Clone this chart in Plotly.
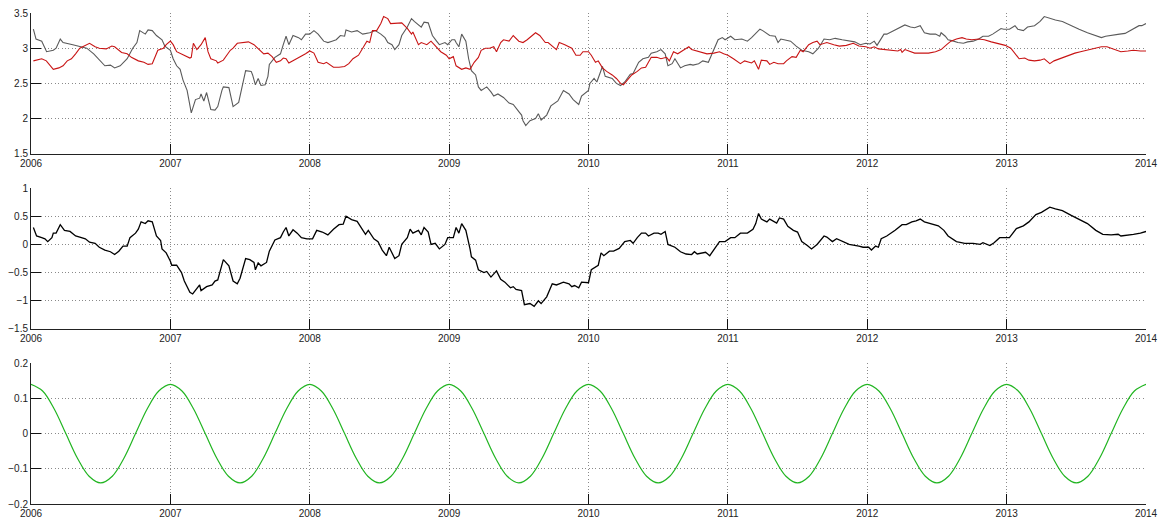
import plotly.graph_objects as go

# ---------------- data ----------------
gray_t = [2006.017, 2006.036, 2006.077, 2006.112, 2006.16, 2006.18, 2006.21, 2006.23, 2006.30, 2006.35,
          2006.40, 2006.45, 2006.49, 2006.53, 2006.57, 2006.60, 2006.64, 2006.69, 2006.73, 2006.76,
          2006.78, 2006.82, 2006.84, 2006.87, 2006.90, 2006.94, 2006.96, 2007.00, 2007.02, 2007.045,
          2007.07, 2007.09, 2007.12, 2007.14, 2007.15, 2007.18, 2007.21, 2007.22, 2007.24, 2007.26,
          2007.29, 2007.32, 2007.34, 2007.37, 2007.38, 2007.42, 2007.45, 2007.49, 2007.52, 2007.54,
          2007.58, 2007.59, 2007.61, 2007.63, 2007.65, 2007.68, 2007.70, 2007.71, 2007.75, 2007.79,
          2007.81, 2007.83, 2007.85, 2007.88, 2007.92, 2007.94, 2007.97, 2008.00, 2008.03, 2008.06,
          2008.10, 2008.13, 2008.16, 2008.19, 2008.22, 2008.25, 2008.26, 2008.30, 2008.34, 2008.38,
          2008.43, 2008.47, 2008.51, 2008.54, 2008.56, 2008.59, 2008.61, 2008.64, 2008.66, 2008.70,
          2008.73, 2008.75, 2008.80, 2008.82, 2008.85, 2008.88, 2008.91, 2008.93, 2008.97, 2008.99,
          2009.02, 2009.04, 2009.05, 2009.07, 2009.09, 2009.12, 2009.14, 2009.16, 2009.19, 2009.21,
          2009.23, 2009.27, 2009.30, 2009.32, 2009.35, 2009.39, 2009.43, 2009.46, 2009.50, 2009.52,
          2009.53, 2009.55, 2009.58, 2009.62, 2009.64, 2009.66, 2009.70, 2009.73, 2009.78, 2009.82,
          2009.86, 2009.89, 2009.93, 2009.95, 2010.00, 2010.01, 2010.04, 2010.06, 2010.10, 2010.12,
          2010.17, 2010.20, 2010.23, 2010.26, 2010.30, 2010.32, 2010.36, 2010.39, 2010.43, 2010.45,
          2010.49, 2010.52, 2010.55, 2010.57, 2010.60, 2010.62, 2010.66, 2010.69, 2010.73, 2010.75,
          2010.79, 2010.82, 2010.86, 2010.90, 2010.93, 2010.96, 2010.98, 2011.02, 2011.05, 2011.10,
          2011.14, 2011.17, 2011.23, 2011.25, 2011.30, 2011.34, 2011.36, 2011.38, 2011.45, 2011.49,
          2011.53, 2011.58, 2011.61, 2011.65, 2011.69, 2011.73, 2011.77, 2011.82, 2011.87, 2011.91,
          2011.95, 2011.99, 2012.02, 2012.05, 2012.07, 2012.09, 2012.12, 2012.14, 2012.16, 2012.20,
          2012.24, 2012.27, 2012.31, 2012.34, 2012.38, 2012.41, 2012.45, 2012.49, 2012.52, 2012.53,
          2012.56, 2012.58, 2012.62, 2012.65, 2012.69, 2012.72, 2012.76, 2012.80, 2012.83, 2012.87,
          2012.90, 2012.94, 2012.96, 2012.98, 2013.02, 2013.06, 2013.08, 2013.12, 2013.15, 2013.20,
          2013.24, 2013.27, 2013.31, 2013.35, 2013.40, 2013.46, 2013.52, 2013.58, 2013.63, 2013.68,
          2013.71, 2013.76, 2013.81, 2013.85, 2013.89, 2013.93, 2013.95, 2013.97, 2014.00]
gray_v = [3.27, 3.13, 3.10, 2.95, 2.97, 3.00, 3.13, 3.08, 3.05, 3.03,
          3.00, 2.92, 2.83, 2.75, 2.76, 2.72, 2.75, 2.85, 3.00, 3.08,
          3.25, 3.20, 3.26, 3.25, 3.18, 3.12, 3.03, 2.97, 2.85, 2.75,
          2.70, 2.55, 2.40, 2.15, 2.08, 2.27, 2.29, 2.35, 2.25, 2.37,
          2.13, 2.12, 2.17, 2.40, 2.45, 2.44, 2.17, 2.23, 2.50, 2.68,
          2.67, 2.62, 2.48, 2.57, 2.47, 2.48, 2.60, 2.77, 2.87, 2.92,
          3.05, 3.17, 3.05, 3.18, 3.15, 3.12, 3.20, 3.20, 3.25, 3.20,
          3.10, 3.08, 3.10, 3.12, 3.18, 3.17, 3.26, 3.23, 3.25, 3.20,
          3.22, 3.25, 3.20, 3.15, 3.08, 3.05, 2.98, 3.05, 3.18, 3.30,
          3.42, 3.38, 3.30, 3.37, 3.36, 3.18, 3.10, 3.05, 3.08, 3.05,
          3.12, 3.12, 3.08, 3.02, 3.20, 3.10, 2.85, 2.68, 2.62, 2.45,
          2.40, 2.45, 2.38, 2.32, 2.35, 2.30, 2.22, 2.20, 2.10, 2.05,
          1.97, 1.90, 1.97, 2.00, 2.07, 1.98, 2.05, 2.18, 2.25, 2.40,
          2.35, 2.27, 2.20, 2.32, 2.40, 2.50, 2.57, 2.52, 2.74, 2.60,
          2.57, 2.50, 2.47, 2.52, 2.63, 2.64, 2.80, 2.85, 2.87, 2.93,
          2.95, 2.98, 2.92, 2.75, 2.78, 2.85, 2.72, 2.75, 2.77, 2.76,
          2.78, 2.82, 2.80, 2.98, 3.12, 3.15, 3.12, 3.17, 3.12, 3.13,
          3.10, 3.15, 3.27, 3.25, 3.18, 3.17, 3.08, 3.13, 3.10, 3.03,
          2.97, 2.95, 2.92, 3.00, 3.13, 3.12, 3.14, 3.12, 3.10, 3.09,
          3.05, 3.07, 3.06, 3.10, 3.04, 3.10, 3.20, 3.20, 3.22, 3.25,
          3.30, 3.33, 3.30, 3.29, 3.32, 3.22, 3.20, 3.20, 3.17, 3.22,
          3.17, 3.12, 3.10, 3.08, 3.07, 3.09, 3.10, 3.13, 3.17, 3.17,
          3.20, 3.25, 3.28, 3.27, 3.27, 3.32, 3.27, 3.25, 3.30, 3.32,
          3.38, 3.45, 3.42, 3.40, 3.38, 3.32, 3.27, 3.22, 3.18, 3.15,
          3.17, 3.18, 3.20, 3.21, 3.25, 3.30, 3.32, 3.32, 3.35]

red_t = [2006.017, 2006.077, 2006.11, 2006.16, 2006.20, 2006.23, 2006.26, 2006.29, 2006.32, 2006.35,
         2006.42, 2006.46, 2006.49, 2006.54, 2006.58, 2006.60, 2006.65, 2006.69, 2006.72, 2006.77,
         2006.81, 2006.84, 2006.87, 2006.89, 2006.91, 2006.95, 2006.97, 2007.00, 2007.02, 2007.045,
         2007.08, 2007.14, 2007.15, 2007.165, 2007.19, 2007.22, 2007.25, 2007.27, 2007.29, 2007.33,
         2007.34, 2007.38, 2007.43, 2007.45, 2007.48, 2007.51, 2007.56, 2007.60, 2007.63, 2007.67,
         2007.70, 2007.73, 2007.76, 2007.79, 2007.81, 2007.83, 2007.85, 2007.88, 2007.92, 2007.97,
         2008.00, 2008.03, 2008.06, 2008.10, 2008.12, 2008.15, 2008.17, 2008.21, 2008.25, 2008.28,
         2008.31, 2008.35, 2008.38, 2008.41, 2008.43, 2008.45, 2008.48, 2008.51, 2008.53, 2008.56,
         2008.58, 2008.61, 2008.66, 2008.70, 2008.73, 2008.74, 2008.78, 2008.80, 2008.84, 2008.87,
         2008.91, 2008.94, 2008.98, 2009.00, 2009.03, 2009.05, 2009.09, 2009.12, 2009.15, 2009.18,
         2009.21, 2009.23, 2009.26, 2009.29, 2009.32, 2009.34, 2009.37, 2009.39, 2009.43, 2009.46,
         2009.50, 2009.53, 2009.56, 2009.58, 2009.62, 2009.65, 2009.69, 2009.71, 2009.74, 2009.77,
         2009.79, 2009.83, 2009.88, 2009.91, 2009.94, 2009.96, 2010.00, 2010.02, 2010.05, 2010.07,
         2010.10, 2010.13, 2010.17, 2010.20, 2010.23, 2010.25, 2010.28, 2010.31, 2010.35, 2010.38,
         2010.41, 2010.43, 2010.45, 2010.49, 2010.52, 2010.56, 2010.58, 2010.61, 2010.64, 2010.68,
         2010.72, 2010.74, 2010.80, 2010.85, 2010.90, 2010.94, 2010.97, 2011.00, 2011.04, 2011.09,
         2011.12, 2011.17, 2011.19, 2011.22, 2011.24, 2011.28, 2011.30, 2011.33, 2011.36, 2011.40,
         2011.42, 2011.46, 2011.49, 2011.52, 2011.54, 2011.58, 2011.61, 2011.64, 2011.66, 2011.71,
         2011.76, 2011.80, 2011.85, 2011.90, 2011.94, 2011.99, 2012.02, 2012.05, 2012.08, 2012.13,
         2012.18, 2012.22, 2012.24, 2012.25, 2012.27, 2012.31, 2012.34, 2012.39, 2012.44, 2012.49,
         2012.53, 2012.57, 2012.60, 2012.64, 2012.68, 2012.71, 2012.75, 2012.80, 2012.84, 2012.89,
         2012.94, 2012.99, 2013.03, 2013.06, 2013.09, 2013.13, 2013.16, 2013.20, 2013.24, 2013.27,
         2013.31, 2013.34, 2013.39, 2013.44, 2013.49, 2013.53, 2013.58, 2013.63, 2013.68, 2013.72,
         2013.77, 2013.82, 2013.87, 2013.91, 2013.96, 2014.00]
red_v = [2.82, 2.85, 2.82, 2.70, 2.72, 2.75, 2.82, 2.85, 2.92, 3.00,
         3.07, 3.02, 3.00, 2.99, 3.03, 3.02, 2.94, 2.92, 2.87, 2.82,
         2.80, 2.77, 2.78, 2.87, 2.97, 3.00, 3.05, 3.10, 3.05, 2.95,
         2.92, 2.86, 2.87, 3.07, 2.98, 3.05, 3.15, 2.95, 2.85, 2.82,
         2.79, 2.83, 2.97, 3.00, 3.07, 3.08, 3.09, 3.05, 3.00, 2.92,
         2.93, 2.88, 2.80, 2.82, 2.86, 2.85, 2.79, 2.82, 2.87, 2.92,
         2.96, 2.93, 2.80, 2.78, 2.80, 2.75, 2.73, 2.73, 2.74, 2.78,
         2.85, 2.90, 3.00, 3.10, 3.08, 3.25, 3.25, 3.35, 3.45, 3.42,
         3.35, 3.35, 3.36, 3.28, 3.20, 3.23, 3.05, 3.08, 3.05, 3.10,
         3.02, 2.95, 2.90, 2.85, 2.88, 2.75, 2.70, 2.72, 2.70, 2.80,
         2.87, 2.97, 3.00, 3.00, 3.02, 2.95, 3.08, 3.12, 3.10, 3.18,
         3.10, 3.08, 3.12, 3.15, 3.22, 3.18, 3.08, 3.08, 3.03, 2.98,
         3.08, 3.05, 3.00, 2.90, 2.90, 2.95, 2.95, 2.90, 2.80, 2.82,
         2.72, 2.67, 2.62, 2.57, 2.50, 2.48, 2.55, 2.62, 2.67, 2.72,
         2.73, 2.80, 2.87, 2.87, 2.85, 2.87, 2.82, 2.95, 2.92, 2.97,
         3.02, 2.98, 2.95, 2.92, 2.93, 2.95, 2.92, 2.90, 2.85, 2.78,
         2.82, 2.79, 2.82, 2.70, 2.83, 2.82, 2.77, 2.80, 2.78, 2.78,
         2.82, 2.88, 2.87, 2.97, 2.95, 3.05, 3.08, 3.10, 3.05, 3.08,
         3.05, 3.03, 3.04, 3.07, 3.03, 3.02, 3.00, 3.02, 2.99, 2.98,
         2.97, 2.96, 2.98, 2.94, 2.98, 2.95, 2.93, 2.93, 2.93, 2.95,
         2.98, 3.05, 3.10, 3.13, 3.15, 3.13, 3.12, 3.13, 3.12, 3.09,
         3.06, 3.04, 3.00, 2.92, 2.85, 2.86, 2.83, 2.82, 2.83, 2.85,
         2.78, 2.82, 2.86, 2.89, 2.93, 2.95, 2.97, 3.00, 3.02, 3.02,
         2.98, 2.95, 2.96, 2.97, 2.96, 2.96]

black_t = [2006.017, 2006.04, 2006.077, 2006.10, 2006.12, 2006.15, 2006.16, 2006.18, 2006.21, 2006.24,
           2006.28, 2006.32, 2006.35, 2006.39, 2006.42, 2006.46, 2006.49, 2006.53, 2006.57, 2006.60,
           2006.63, 2006.66, 2006.69, 2006.71, 2006.75, 2006.77, 2006.79, 2006.82, 2006.84, 2006.87,
           2006.90, 2006.93, 2006.94, 2006.97, 2007.00, 2007.01, 2007.045, 2007.08, 2007.10, 2007.14,
           2007.16, 2007.19, 2007.21, 2007.22, 2007.26, 2007.30, 2007.32, 2007.34, 2007.38, 2007.42,
           2007.45, 2007.48, 2007.50, 2007.54, 2007.57, 2007.60, 2007.61, 2007.63, 2007.65, 2007.69,
           2007.71, 2007.75, 2007.79, 2007.81, 2007.83, 2007.85, 2007.88, 2007.91, 2007.94, 2007.98,
           2008.02, 2008.05, 2008.09, 2008.13, 2008.17, 2008.21, 2008.24, 2008.26, 2008.30, 2008.34,
           2008.37, 2008.40, 2008.42, 2008.46, 2008.49, 2008.52, 2008.55, 2008.57, 2008.61, 2008.64,
           2008.66, 2008.70, 2008.72, 2008.74, 2008.78, 2008.80, 2008.82, 2008.85, 2008.87, 2008.90,
           2008.93, 2008.97, 2008.99, 2009.03, 2009.05, 2009.07, 2009.09, 2009.12, 2009.15, 2009.16,
           2009.19, 2009.21, 2009.25, 2009.27, 2009.30, 2009.34, 2009.37, 2009.40, 2009.44, 2009.46,
           2009.48, 2009.52, 2009.54, 2009.58, 2009.61, 2009.64, 2009.66, 2009.70, 2009.74, 2009.77,
           2009.79, 2009.82, 2009.86, 2009.88, 2009.90, 2009.93, 2009.95, 2010.00, 2010.02, 2010.05,
           2010.07, 2010.09, 2010.11, 2010.15, 2010.18, 2010.22, 2010.26, 2010.30, 2010.32, 2010.35,
           2010.38, 2010.41, 2010.43, 2010.47, 2010.50, 2010.52, 2010.55, 2010.57, 2010.62, 2010.66,
           2010.70, 2010.74, 2010.76, 2010.78, 2010.84, 2010.87, 2010.91, 2010.94, 2010.98, 2011.02,
           2011.05, 2011.09, 2011.14, 2011.18, 2011.20, 2011.22, 2011.24, 2011.28, 2011.30, 2011.35,
           2011.37, 2011.40, 2011.43, 2011.47, 2011.50, 2011.53, 2011.57, 2011.60, 2011.64, 2011.69,
           2011.71, 2011.75, 2011.78, 2011.82, 2011.87, 2011.94, 2011.97, 2012.01, 2012.03, 2012.06,
           2012.08, 2012.10, 2012.14, 2012.20, 2012.25, 2012.28, 2012.32, 2012.35, 2012.38, 2012.41,
           2012.46, 2012.51, 2012.55, 2012.58, 2012.64, 2012.70, 2012.76, 2012.81, 2012.83, 2012.88,
           2012.91, 2012.95, 2012.99, 2013.02, 2013.07, 2013.12, 2013.16, 2013.21, 2013.25, 2013.28,
           2013.31, 2013.35, 2013.40, 2013.46, 2013.52, 2013.58, 2013.64, 2013.69, 2013.75, 2013.80,
           2013.82, 2013.87, 2013.91, 2013.96, 2014.00]
black_v = [0.30, 0.15, 0.12, 0.10, 0.05, 0.12, 0.20, 0.20, 0.35, 0.25,
           0.23, 0.15, 0.13, 0.10, 0.04, 0.02, -0.05, -0.10, -0.13, -0.18,
           -0.12, -0.03, -0.03, 0.12, 0.20, 0.27, 0.40, 0.37, 0.42, 0.40,
           0.15, 0.07, -0.08, -0.15, -0.30, -0.37, -0.37, -0.50, -0.65, -0.85,
           -0.88, -0.78, -0.72, -0.82, -0.75, -0.72, -0.65, -0.63, -0.27, -0.38,
           -0.65, -0.70, -0.60, -0.25, -0.27, -0.32, -0.45, -0.33, -0.38, -0.32,
           -0.12, 0.08, 0.12, 0.22, 0.30, 0.15, 0.26, 0.20, 0.12, 0.10,
           0.10, 0.25, 0.22, 0.17, 0.27, 0.35, 0.36, 0.50, 0.44, 0.41,
           0.30, 0.18, 0.25, 0.10, 0.05, -0.10, -0.20, -0.05, -0.25, -0.20,
           0.00, 0.12, 0.27, 0.20, 0.25, 0.17, 0.30, 0.22, 0.00, 0.02,
           -0.08, 0.00, 0.12, 0.12, 0.30, 0.20, 0.37, 0.25, -0.08, -0.22,
           -0.28, -0.45, -0.50, -0.48, -0.58, -0.47, -0.62, -0.67, -0.77, -0.75,
           -0.80, -0.82, -1.07, -1.05, -1.10, -1.00, -1.05, -0.93, -0.70, -0.72,
           -0.70, -0.67, -0.70, -0.75, -0.73, -0.77, -0.67, -0.68, -0.45, -0.40,
           -0.37, -0.15, -0.20, -0.12, -0.12, -0.07, 0.05, 0.07, 0.02, 0.12,
           0.20, 0.20, 0.15, 0.20, 0.20, 0.18, 0.23, 0.00, -0.05, -0.13,
           -0.17, -0.18, -0.13, -0.17, -0.14, -0.20, -0.05, 0.05, 0.05, 0.12,
           0.12, 0.20, 0.20, 0.27, 0.37, 0.55, 0.45, 0.40, 0.45, 0.38,
           0.47, 0.45, 0.32, 0.25, 0.22, 0.05, -0.02, -0.08, 0.00, 0.15,
           0.13, 0.05, 0.10, 0.06, 0.00, -0.03, -0.05, -0.05, -0.10, -0.03,
           -0.05, 0.10, 0.15, 0.25, 0.35, 0.35, 0.40, 0.42, 0.45, 0.40,
           0.37, 0.33, 0.25, 0.15, 0.05, 0.02, 0.02, 0.00, 0.03, -0.02,
           0.03, 0.12, 0.12, 0.12, 0.28, 0.33, 0.40, 0.53, 0.57, 0.62,
           0.66, 0.63, 0.60, 0.52, 0.45, 0.37, 0.25, 0.18, 0.17, 0.18,
           0.15, 0.16, 0.18, 0.20, 0.23]

# green seasonal curve, monthly samples from 2006-01 to 2014-01
green_v = [0.14, 0.121, 0.07, 0.0, -0.07, -0.121, -0.14, -0.121, -0.07, 0.0, 0.07, 0.121,
           0.14, 0.121, 0.07, 0.0, -0.07, -0.121, -0.14, -0.121, -0.07, 0.0, 0.07, 0.121,
           0.14, 0.121, 0.07, 0.0, -0.07, -0.121, -0.14, -0.121, -0.07, 0.0, 0.07, 0.121,
           0.14, 0.121, 0.07, 0.0, -0.07, -0.121, -0.14, -0.121, -0.07, 0.0, 0.07, 0.121,
           0.14, 0.121, 0.07, 0.0, -0.07, -0.121, -0.14, -0.121, -0.07, 0.0, 0.07, 0.121,
           0.14, 0.121, 0.07, 0.0, -0.07, -0.121, -0.14, -0.121, -0.07, 0.0, 0.07, 0.121,
           0.14, 0.121, 0.07, 0.0, -0.07, -0.121, -0.14, -0.121, -0.07, 0.0, 0.07, 0.121,
           0.14, 0.121, 0.07, 0.0, -0.07, -0.121, -0.14, -0.121, -0.07, 0.0, 0.07, 0.121,
           0.14]
green_t = [2006 + i / 12 for i in range(len(green_v))]

x_ticks = [2006, 2007, 2008, 2009, 2010, 2011, 2012, 2013, 2014]
y1_ticks = [1.5, 2, 2.5, 3, 3.5]
y2_ticks = [-1.5, -1, -0.5, 0, 0.5, 1]
y3_ticks = [-0.2, -0.1, 0, 0.1, 0.2]

# ---------------- figure ----------------
fig = go.Figure()
fig.add_trace(go.Scatter(x=gray_t, y=gray_v, mode="lines", line=dict(color="#5a5a5a", width=1.1),
                         xaxis="x", yaxis="y"))
fig.add_trace(go.Scatter(x=red_t, y=red_v, mode="lines", line=dict(color="#c81414", width=1.1),
                         xaxis="x", yaxis="y"))
fig.add_trace(go.Scatter(x=black_t, y=black_v, mode="lines", line=dict(color="#000000", width=1.3),
                         xaxis="x2", yaxis="y2"))
fig.add_trace(go.Scatter(x=green_t, y=green_v, mode="lines",
                         line=dict(color="#22b522", width=1.2, shape="spline"),
                         xaxis="x3", yaxis="y3"))

font = dict(family="Liberation Sans, Arial, sans-serif", size=10, color="#222222")
grid = dict(showgrid=True, gridcolor="#8a8a8a", griddash="1px,2.4px", gridwidth=1)

def xax(anchor):
    return dict(range=[2006, 2014], tickvals=x_ticks, ticktext=[str(v) for v in x_ticks],
                ticks="inside", ticklen=10, tickcolor="#111", tickwidth=1,
                showline=True, linecolor="#222", linewidth=1, mirror=False,
                zeroline=False, anchor=anchor, tickfont=font, fixedrange=True, **grid)

def yax(rng, vals, dom, anchor):
    return dict(range=rng, tickvals=vals, domain=dom,
                ticks="inside", ticklen=10, tickcolor="#111", tickwidth=1,
                showline=True, linecolor="#222", linewidth=1, mirror=False,
                zeroline=False, anchor=anchor, tickfont=font, fixedrange=True, **grid)

fig.update_layout(
    width=1163, height=521,
    margin=dict(l=31, r=17, t=13, b=17, autoexpand=False),
    paper_bgcolor="white", plot_bgcolor="white",
    showlegend=False,
    xaxis=xax("y"), xaxis2=xax("y2"), xaxis3=xax("y3"),
    yaxis=yax([1.5, 3.5], y1_ticks, [0.7133, 1.0], "x"),
    yaxis2=yax([-1.5, 1], y2_ticks, [0.3566, 0.6434], "x2"),
    yaxis3=yax([-0.2, 0.2], y3_ticks, [0.0, 0.2867], "x3"),
)

fig.write_html("out.html", config={"displayModeBar": False},
               post_script="document.body.style.margin='0';")
